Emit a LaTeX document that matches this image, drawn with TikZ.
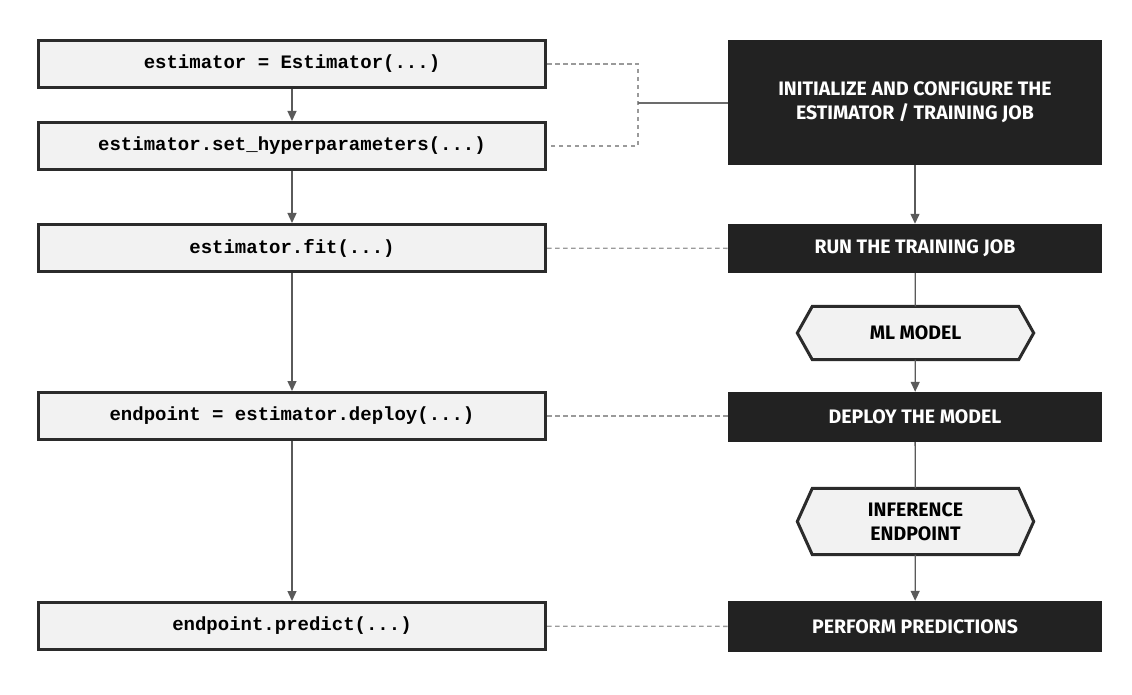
\documentclass[tikz,border=0pt]{standalone}
\usepackage{fontspec}
\setmonofont{Liberation Mono}
\newfontfamily\labfont{Fira Sans}
\usetikzlibrary{arrows.meta,backgrounds}
\definecolor{boxfill}{HTML}{F2F2F2}
\definecolor{boxline}{HTML}{2B2B2B}
\definecolor{darkfill}{HTML}{222222}
\definecolor{arrowgray}{HTML}{5A5A5A}
\definecolor{dashgray}{HTML}{9A9A9A}
\tikzset{
  codebox/.style={draw=boxline, fill=boxfill, line width=3pt, minimum width=507pt, minimum height=47pt, inner sep=0pt,
    font=\fontsize{19}{23}\selectfont\ttfamily\bfseries, text=black},
  darkbox/.style={fill=darkfill, draw=none, minimum width=374pt, inner sep=0pt, align=center,
    font=\fontsize{19.5}{24}\selectfont\labfont\bfseries, text=white},
  hexbox/.style={draw=none, inner sep=0pt, align=center,
    font=\fontsize{19.5}{23.5}\selectfont\labfont\bfseries, text=black},
  hexline/.style={draw=boxline, fill=boxfill, line width=3pt, line join=miter},
  flow/.style={draw=arrowgray, line width=1.3pt, -{Triangle[length=10pt,width=9pt]}},
  plain/.style={draw=arrowgray, line width=1.3pt},
  link/.style={draw=dashgray, line width=1.3pt, dash pattern=on 4.5pt off 3.5pt},
  solidlink/.style={draw=dashgray!70!black, line width=1.3pt}
}
\begin{document}
\begin{tikzpicture}[x=1pt,y=-1pt]
\useasboundingbox (0,0) rectangle (1132,695);
% left code boxes
\node[codebox] (b1) at (292,64) {estimator = Estimator(...)};
\node[codebox] (b2) at (292,146) {estimator.set\_hyperparameters(...)};
\node[codebox] (b3) at (292,248) {estimator.fit(...)};
\node[codebox] (b4) at (292,416) {endpoint = estimator.deploy(...)};
\node[codebox] (b5) at (292,626) {endpoint.predict(...)};
% right dark boxes
\node[darkbox, minimum height=125pt] (d1) at (915,102.5) {INITIALIZE AND CONFIGURE THE\\ESTIMATOR / TRAINING JOB};
\node[darkbox, minimum height=49pt] (d2) at (915,248.5) {RUN THE TRAINING JOB};
\node[darkbox, minimum height=50pt] (d3) at (915,417) {DEPLOY THE MODEL};
\node[darkbox, minimum height=51pt] (d4) at (915,626.5) {PERFORM PREDICTIONS};
% hexagons
\node[hexbox, minimum width=236pt, minimum height=53pt] (h1) at (915.5,333) {ML MODEL};
\node[hexbox, minimum width=236pt, minimum height=66pt] (h2) at (915.5,521.5) {INFERENCE\\ENDPOINT};
\begin{scope}[on background layer]
\fill[white] (0,0) rectangle (1132,695);
\foreach \h in {h1,h2}{
  \draw[hexline] ([xshift=15pt]\h.north west) -- ([xshift=-15pt]\h.north east) -- (\h.east)
    -- ([xshift=-15pt]\h.south east) -- ([xshift=15pt]\h.south west) -- (\h.west) -- cycle;
}
\end{scope}
% left flow
\draw[flow] (b1) -- (b2);
\draw[flow] (b2) -- (b3);
\draw[flow] (b3) -- (b4);
\draw[flow] (b4) -- (b5);
% right flow
\draw[flow] (d1) -- (d2);
\draw[plain] (d2) -- (h1);
\draw[flow] (h1) -- (d3);
\draw[plain] (d3) -- (h2);
\draw[flow] (h2) -- (d4);
% dashed links
\coordinate (brk) at (638,103);
\draw[link] (b1.east) -| (brk |- b1.east) -- (brk |- b2.east) -- (b2.east);
\draw[solidlink] (brk) -- (d1.west |- brk);
\draw[link] (b3) -- (d2);
\draw[link] (b4.east) -- (d3.west |- b4.east);
\draw[link] (b5) -- (d4);
\end{tikzpicture}
\end{document}
